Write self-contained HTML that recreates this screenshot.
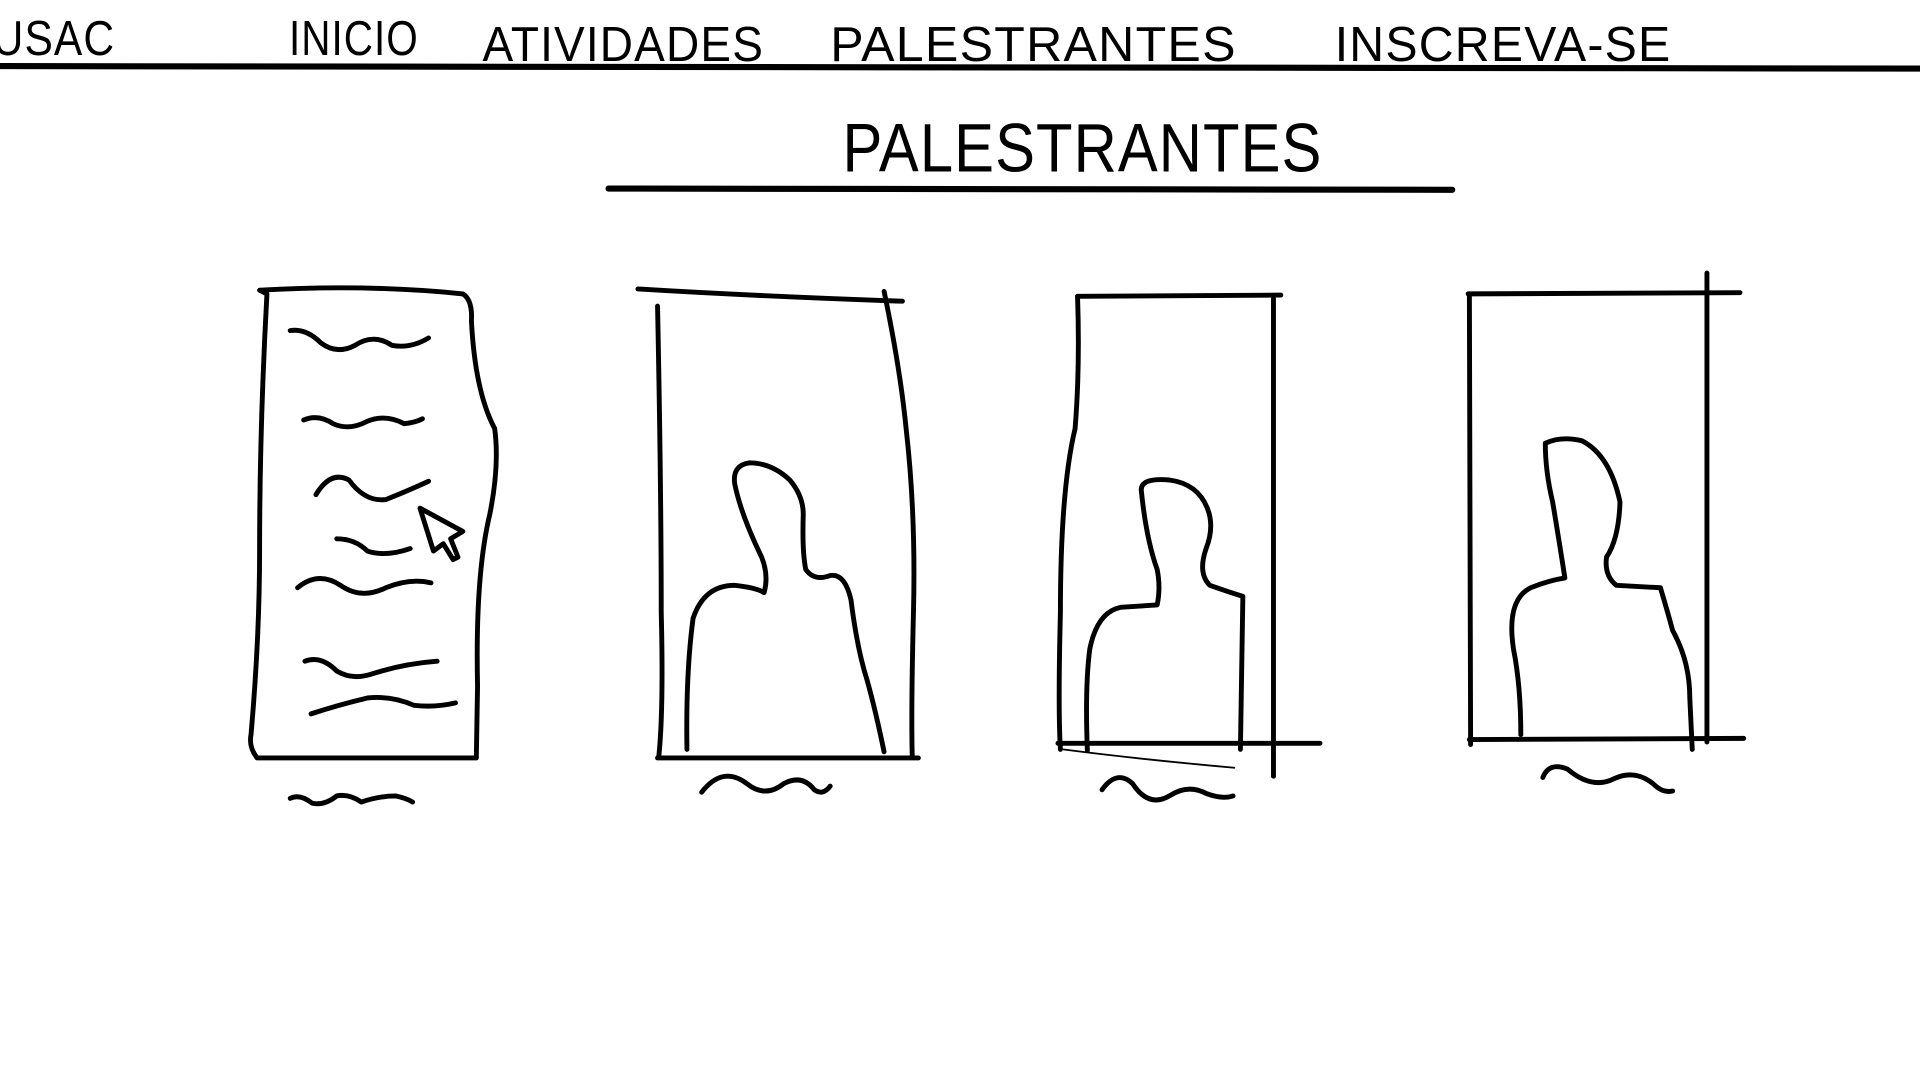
<!DOCTYPE html>
<html lang="pt">
<head>
<meta charset="utf-8">
<title>Palestrantes</title>
<style>
  html,body{margin:0;padding:0;background:#fff;width:1920px;height:1080px;overflow:hidden}
  svg{display:block}
  .ln{fill:none;stroke:#000;stroke-width:4;stroke-linecap:round;stroke-linejoin:round}
  .nav{font-family:"Liberation Sans",sans-serif;font-size:40px;fill:#000;letter-spacing:1px}
</style>
</head>
<body>
<svg width="1920" height="1080" viewBox="0 0 1568 882">
  <!-- nav bar -->
  <g>
    <text class="nav" x="-6" y="45" textLength="100" lengthAdjust="spacingAndGlyphs">USAC</text>
    <text class="nav" x="236" y="45" textLength="106" lengthAdjust="spacingAndGlyphs">INICIO</text>
    <text class="nav" x="394" y="50" textLength="230" lengthAdjust="spacingAndGlyphs">ATIVIDADES</text>
    <text class="nav" x="678" y="50" textLength="332" lengthAdjust="spacingAndGlyphs">PALESTRANTES</text>
    <text class="nav" x="1090" y="50" textLength="275" lengthAdjust="spacingAndGlyphs">INSCREVA-SE</text>
    <path class="ln" d="M0 54 L1568 56" style="stroke-width:5"/>
  </g>

  <!-- title -->
  <text class="nav" x="688" y="140" style="font-size:56px" textLength="392" lengthAdjust="spacingAndGlyphs">PALESTRANTES</text>
  <path class="ln" d="M497 154 L1186 155" style="stroke-width:5"/>

  <!-- card 1: text card -->
  <g>
    <path class="ln" d="M212 237 Q300 232 378 240 Q386 245 385 262 Q388 320 404 350 Q408 380 400 420 Q388 470 390 560 L389 619 L210 619 Q203 610 205 600 Q212 520 212 450 Q212 350 218 240 Z"/>
    <path class="ln" d="M237 270 Q250 268 262 280 Q275 290 290 282 Q305 272 320 282 Q335 285 350 276"/>
    <path class="ln" d="M248 343 Q260 338 272 346 Q285 352 300 344 Q315 338 330 346 Q340 345 345 342"/>
    <path class="ln" d="M258 404 Q270 384 285 392 Q298 410 315 408 Q335 400 350 393"/>
    <path class="ln" d="M275 440 Q290 440 300 450 Q315 455 335 448"/>
    <path class="ln" d="M343 415 L378 434 L368 440 L374 455 L370 457 L362 444 L354 450 Z"/>
    <path class="ln" d="M243 480 Q260 466 278 478 Q295 490 315 480 Q335 472 352 476"/>
    <path class="ln" d="M249 540 Q262 535 275 548 Q288 556 305 550 Q330 542 357 540"/>
    <path class="ln" d="M254 583 Q275 576 300 570 Q320 568 338 576 Q355 578 372 574"/>
    <path class="ln" d="M237 652 Q245 648 255 656 Q265 658 275 650 Q285 648 295 655 Q310 650 323 650 Q332 652 337 655"/>
  </g>

  <!-- card 2 -->
  <g>
    <path class="ln" d="M521 236 Q620 242 737 246"/>
    <path class="ln" d="M537 250 Q540 400 540 500 Q542 580 538 618"/>
    <path class="ln" d="M722 238 Q735 300 740 350 Q748 420 746 500 Q744 580 745 618"/>
    <path class="ln" d="M537 619 L750 619"/>
    <path class="ln" d="M561 612 Q560 550 566 505 Q575 478 600 478 Q618 480 624 484 Q628 470 622 455 Q605 420 600 395 Q598 380 612 378 Q630 378 645 392 Q656 405 656 420 Q655 450 658 465 Q665 475 678 470 Q690 468 695 490 Q700 530 708 555 Q715 580 722 614"/>
    <path class="ln" d="M573 647 Q590 625 610 640 Q625 652 640 640 Q655 632 665 645 Q672 650 678 642"/>
  </g>

  <!-- card 3 -->
  <g>
    <path class="ln" d="M880 242 L1046 241"/>
    <path class="ln" d="M880 242 Q882 300 878 350 Q866 400 866 500 Q864 580 866 612"/>
    <path class="ln" d="M1040 244 L1040 634"/>
    <path class="ln" d="M864 607 L1078 607"/>
    <path class="ln" d="M868 612 Q930 620 1008 627" style="stroke-width:1.5"/>
    <path class="ln" d="M888 613 Q886 560 890 530 Q896 500 915 496 L945 494 Q948 480 945 465 Q936 440 932 400 Q932 390 955 392 Q978 395 986 415 Q992 430 985 448 Q978 468 988 478 Q1005 484 1015 487 L1013 612"/>
    <path class="ln" d="M900 645 Q912 628 925 640 Q938 660 955 650 Q970 640 985 648 Q998 653 1007 650"/>
  </g>

  <!-- card 4 -->
  <g>
    <path class="ln" d="M1199 240 L1421 239"/>
    <path class="ln" d="M1200 242 L1201 608"/>
    <path class="ln" d="M1394 223 L1394 606"/>
    <path class="ln" d="M1200 604 L1424 603"/>
    <path class="ln" d="M1242 600 Q1242 560 1236 530 Q1230 490 1250 480 Q1265 474 1278 472 Q1273 440 1268 410 Q1262 385 1262 362 Q1275 356 1292 360 Q1315 372 1323 410 Q1322 440 1312 455 Q1310 470 1320 478 L1356 480 Q1362 500 1366 515 Q1380 540 1380 570 L1382 612"/>
    <path class="ln" d="M1260 635 Q1265 622 1280 628 Q1300 645 1318 636 Q1335 628 1350 640 Q1358 648 1366 646"/>
  </g>
</svg>
</body>
</html>
